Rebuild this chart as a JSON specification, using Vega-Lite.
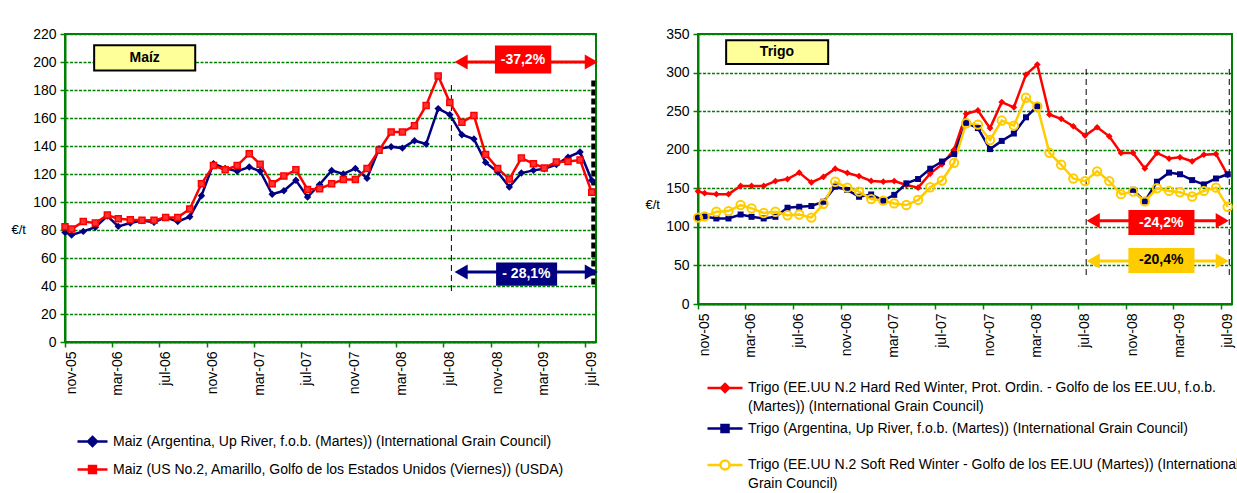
{
  "$schema": "https://vega.github.io/schema/vega-lite/v6.json",
  "background": "white",
  "padding": {"left": 10, "top": 26, "right": 0, "bottom": 0},
  "config": {
    "font": "Liberation Sans",
    "view": {"stroke": "#008000", "strokeWidth": 2},
    "axis": {"labelFont": "Liberation Sans", "labelFontSize": 14, "labelColor": "#000000", "labelOverlap": false, "domainColor": "#008000", "domainWidth": 2, "tickColor": "#008000", "tickWidth": 1.5, "tickSize": 5, "gridColor": "#008000", "gridDash": [3, 1.5], "gridWidth": 1.3, "gridOpacity": 1, "titleFont": "Liberation Sans", "titleFontSize": 13, "titleFontWeight": "normal", "titleColor": "#000000"},
    "legend": {"labelFont": "Liberation Sans", "labelColor": "#000000", "labelFontSize": 14, "labelLimit": 900, "labelOffset": 4, "padding": 0, "symbolStrokeWidth": 2.5, "title": null},
    "style": {"guide-label": {"lineHeight": 19}}
  },
  "resolve": {
    "scale": {"color": "independent"},
    "legend": {"color": "independent"}
  },
  "datasets": {
    "maiz": [
      {"d":"2005-11-01","s":"MA","v":78.3},{"d":"2005-11-18","s":"MA","v":76.4},{"d":"2005-12-18","s":"MA","v":79},{"d":"2006-01-18","s":"MA","v":82},{"d":"2006-02-18","s":"MA","v":90},{"d":"2006-03-18","s":"MA","v":82.6},{"d":"2006-04-18","s":"MA","v":85},{"d":"2006-05-18","s":"MA","v":86.7},{"d":"2006-06-18","s":"MA","v":85.5},{"d":"2006-07-18","s":"MA","v":89},{"d":"2006-08-18","s":"MA","v":86},{"d":"2006-09-18","s":"MA","v":89.5},{"d":"2006-10-18","s":"MA","v":104.5},{"d":"2006-11-18","s":"MA","v":127.4},{"d":"2006-12-18","s":"MA","v":124},{"d":"2007-01-18","s":"MA","v":122},{"d":"2007-02-18","s":"MA","v":125},{"d":"2007-03-18","s":"MA","v":122},{"d":"2007-04-18","s":"MA","v":105.5},{"d":"2007-05-18","s":"MA","v":108},{"d":"2007-06-18","s":"MA","v":115.5},{"d":"2007-07-18","s":"MA","v":103.5},{"d":"2007-08-18","s":"MA","v":112.5},{"d":"2007-09-18","s":"MA","v":122.5},{"d":"2007-10-18","s":"MA","v":120},{"d":"2007-11-18","s":"MA","v":124},{"d":"2007-12-18","s":"MA","v":117},{"d":"2008-01-18","s":"MA","v":138},{"d":"2008-02-18","s":"MA","v":139.5},{"d":"2008-03-18","s":"MA","v":138.5},{"d":"2008-04-18","s":"MA","v":143.8},{"d":"2008-05-18","s":"MA","v":141.4},{"d":"2008-06-18","s":"MA","v":166.7},{"d":"2008-07-18","s":"MA","v":162.4},{"d":"2008-08-18","s":"MA","v":148},{"d":"2008-09-18","s":"MA","v":145},{"d":"2008-10-18","s":"MA","v":128.3},{"d":"2008-11-18","s":"MA","v":121.4},{"d":"2008-12-18","s":"MA","v":110.7},{"d":"2009-01-18","s":"MA","v":120.7},{"d":"2009-02-18","s":"MA","v":122.6},{"d":"2009-03-18","s":"MA","v":123.8},{"d":"2009-04-18","s":"MA","v":126.7},{"d":"2009-05-18","s":"MA","v":132},{"d":"2009-06-18","s":"MA","v":135.7},{"d":"2009-07-18","s":"MA","v":115.5},
      {"d":"2005-11-01","s":"MU","v":82.4},{"d":"2005-11-18","s":"MU","v":80.7},{"d":"2005-12-18","s":"MU","v":86},{"d":"2006-01-18","s":"MU","v":85},{"d":"2006-02-18","s":"MU","v":90.7},{"d":"2006-03-18","s":"MU","v":88},{"d":"2006-04-18","s":"MU","v":87.4},{"d":"2006-05-18","s":"MU","v":87},{"d":"2006-06-18","s":"MU","v":87},{"d":"2006-07-18","s":"MU","v":89},{"d":"2006-08-18","s":"MU","v":89},{"d":"2006-09-18","s":"MU","v":95},{"d":"2006-10-18","s":"MU","v":113},{"d":"2006-11-18","s":"MU","v":126},{"d":"2006-12-18","s":"MU","v":123},{"d":"2007-01-18","s":"MU","v":126},{"d":"2007-02-18","s":"MU","v":134.5},{"d":"2007-03-18","s":"MU","v":127},{"d":"2007-04-18","s":"MU","v":113},{"d":"2007-05-18","s":"MU","v":118.5},{"d":"2007-06-18","s":"MU","v":123},{"d":"2007-07-18","s":"MU","v":109},{"d":"2007-08-18","s":"MU","v":109.5},{"d":"2007-09-18","s":"MU","v":113},{"d":"2007-10-18","s":"MU","v":116},{"d":"2007-11-18","s":"MU","v":116},{"d":"2007-12-18","s":"MU","v":124},{"d":"2008-01-18","s":"MU","v":137},{"d":"2008-02-18","s":"MU","v":150},{"d":"2008-03-18","s":"MU","v":150},{"d":"2008-04-18","s":"MU","v":154.5},{"d":"2008-05-18","s":"MU","v":169},{"d":"2008-06-18","s":"MU","v":190},{"d":"2008-07-18","s":"MU","v":171},{"d":"2008-08-18","s":"MU","v":157},{"d":"2008-09-18","s":"MU","v":161.7},{"d":"2008-10-18","s":"MU","v":134},{"d":"2008-11-18","s":"MU","v":124},{"d":"2008-12-18","s":"MU","v":116.4},{"d":"2009-01-18","s":"MU","v":131.4},{"d":"2009-02-18","s":"MU","v":127.4},{"d":"2009-03-18","s":"MU","v":124.3},{"d":"2009-04-18","s":"MU","v":128.6},{"d":"2009-05-18","s":"MU","v":129},{"d":"2009-06-18","s":"MU","v":130},{"d":"2009-07-18","s":"MU","v":107}
    ],
    "trigo": [
      {"d":"2005-11-01","s":"TH","v":146},{"d":"2005-11-18","s":"TH","v":143.6},{"d":"2005-12-18","s":"TH","v":142.4},{"d":"2006-01-18","s":"TH","v":142.4},{"d":"2006-02-18","s":"TH","v":153},{"d":"2006-03-18","s":"TH","v":153},{"d":"2006-04-18","s":"TH","v":153},{"d":"2006-05-18","s":"TH","v":159.3},{"d":"2006-06-18","s":"TH","v":161.9},{"d":"2006-07-18","s":"TH","v":170.3},{"d":"2006-08-18","s":"TH","v":157.6},{"d":"2006-09-18","s":"TH","v":164.8},{"d":"2006-10-18","s":"TH","v":175.4},{"d":"2006-11-18","s":"TH","v":169.9},{"d":"2006-12-18","s":"TH","v":165.7},{"d":"2007-01-18","s":"TH","v":159.5},{"d":"2007-02-18","s":"TH","v":158.5},{"d":"2007-03-18","s":"TH","v":159.3},{"d":"2007-04-18","s":"TH","v":154.2},{"d":"2007-05-18","s":"TH","v":150.8},{"d":"2007-06-18","s":"TH","v":169},{"d":"2007-07-18","s":"TH","v":181},{"d":"2007-08-18","s":"TH","v":200},{"d":"2007-09-18","s":"TH","v":246.5},{"d":"2007-10-18","s":"TH","v":250.9},{"d":"2007-11-18","s":"TH","v":228},{"d":"2007-12-18","s":"TH","v":261.7},{"d":"2008-01-18","s":"TH","v":255},{"d":"2008-02-18","s":"TH","v":297.4},{"d":"2008-03-18","s":"TH","v":310.4},{"d":"2008-04-18","s":"TH","v":245.6},{"d":"2008-05-18","s":"TH","v":240},{"d":"2008-06-18","s":"TH","v":230.4},{"d":"2008-07-18","s":"TH","v":218.3},{"d":"2008-08-18","s":"TH","v":229.1},{"d":"2008-09-18","s":"TH","v":217.4},{"d":"2008-10-18","s":"TH","v":195.8},{"d":"2008-11-18","s":"TH","v":195.8},{"d":"2008-12-18","s":"TH","v":175.8},{"d":"2009-01-18","s":"TH","v":195.8},{"d":"2009-02-18","s":"TH","v":188.5},{"d":"2009-03-18","s":"TH","v":190.2},{"d":"2009-04-18","s":"TH","v":185},{"d":"2009-05-18","s":"TH","v":193.6},{"d":"2009-06-18","s":"TH","v":194.5},{"d":"2009-07-18","s":"TH","v":167},
      {"d":"2005-11-01","s":"TA","v":112},{"d":"2005-11-18","s":"TA","v":113.5},{"d":"2005-12-18","s":"TA","v":110.9},{"d":"2006-01-18","s":"TA","v":110.9},{"d":"2006-02-18","s":"TA","v":116},{"d":"2006-03-18","s":"TA","v":113},{"d":"2006-04-18","s":"TA","v":110.9},{"d":"2006-05-18","s":"TA","v":113},{"d":"2006-06-18","s":"TA","v":124.8},{"d":"2006-07-18","s":"TA","v":126},{"d":"2006-08-18","s":"TA","v":127},{"d":"2006-09-18","s":"TA","v":132.6},{"d":"2006-10-18","s":"TA","v":152},{"d":"2006-11-18","s":"TA","v":147.8},{"d":"2006-12-18","s":"TA","v":139},{"d":"2007-01-18","s":"TA","v":142},{"d":"2007-02-18","s":"TA","v":134},{"d":"2007-03-18","s":"TA","v":141.5},{"d":"2007-04-18","s":"TA","v":156.4},{"d":"2007-05-18","s":"TA","v":162},{"d":"2007-06-18","s":"TA","v":175.4},{"d":"2007-07-18","s":"TA","v":184.7},{"d":"2007-08-18","s":"TA","v":194.5},{"d":"2007-09-18","s":"TA","v":234.8},{"d":"2007-10-18","s":"TA","v":228},{"d":"2007-11-18","s":"TA","v":200.8},{"d":"2007-12-18","s":"TA","v":211.4},{"d":"2008-01-18","s":"TA","v":221},{"d":"2008-02-18","s":"TA","v":242},{"d":"2008-03-18","s":"TA","v":256.5},{"d":"2008-04-18","s":"TA","v":null},{"d":"2008-05-18","s":"TA","v":null},{"d":"2008-06-18","s":"TA","v":null},{"d":"2008-07-18","s":"TA","v":null},{"d":"2008-08-18","s":"TA","v":null},{"d":"2008-09-18","s":"TA","v":null},{"d":"2008-10-18","s":"TA","v":null},{"d":"2008-11-18","s":"TA","v":148},{"d":"2008-12-18","s":"TA","v":133},{"d":"2009-01-18","s":"TA","v":158.5},{"d":"2009-02-18","s":"TA","v":170.3},{"d":"2009-03-18","s":"TA","v":168.2},{"d":"2009-04-18","s":"TA","v":160.6},{"d":"2009-05-18","s":"TA","v":155},{"d":"2009-06-18","s":"TA","v":162.7},{"d":"2009-07-18","s":"TA","v":168.2},
      {"d":"2005-11-01","s":"TS","v":112},{"d":"2005-11-18","s":"TS","v":113.5},{"d":"2005-12-18","s":"TS","v":119.6},{"d":"2006-01-18","s":"TS","v":120.4},{"d":"2006-02-18","s":"TS","v":128.3},{"d":"2006-03-18","s":"TS","v":124},{"d":"2006-04-18","s":"TS","v":118},{"d":"2006-05-18","s":"TS","v":119.6},{"d":"2006-06-18","s":"TS","v":115},{"d":"2006-07-18","s":"TS","v":116},{"d":"2006-08-18","s":"TS","v":112},{"d":"2006-09-18","s":"TS","v":130},{"d":"2006-10-18","s":"TS","v":158.5},{"d":"2006-11-18","s":"TS","v":150.8},{"d":"2006-12-18","s":"TS","v":145.7},{"d":"2007-01-18","s":"TS","v":136},{"d":"2007-02-18","s":"TS","v":134},{"d":"2007-03-18","s":"TS","v":130.4},{"d":"2007-04-18","s":"TS","v":128.3},{"d":"2007-05-18","s":"TS","v":134.9},{"d":"2007-06-18","s":"TS","v":151.3},{"d":"2007-07-18","s":"TS","v":160},{"d":"2007-08-18","s":"TS","v":183},{"d":"2007-09-18","s":"TS","v":234.3},{"d":"2007-10-18","s":"TS","v":232.6},{"d":"2007-11-18","s":"TS","v":212.6},{"d":"2007-12-18","s":"TS","v":237.8},{"d":"2008-01-18","s":"TS","v":231.3},{"d":"2008-02-18","s":"TS","v":267.4},{"d":"2008-03-18","s":"TS","v":256},{"d":"2008-04-18","s":"TS","v":196},{"d":"2008-05-18","s":"TS","v":180.5},{"d":"2008-06-18","s":"TS","v":162.7},{"d":"2008-07-18","s":"TS","v":159.3},{"d":"2008-08-18","s":"TS","v":172},{"d":"2008-09-18","s":"TS","v":159.3},{"d":"2008-10-18","s":"TS","v":142.4},{"d":"2008-11-18","s":"TS","v":145.8},{"d":"2008-12-18","s":"TS","v":133},{"d":"2009-01-18","s":"TS","v":150},{"d":"2009-02-18","s":"TS","v":146.6},{"d":"2009-03-18","s":"TS","v":144.9},{"d":"2009-04-18","s":"TS","v":139.4},{"d":"2009-05-18","s":"TS","v":146.6},{"d":"2009-06-18","s":"TS","v":150.8},{"d":"2009-07-18","s":"TS","v":126}
    ]
  },
  "spacing": 102,
  "bounds": "flush",
  "hconcat": [
    {
      "width": 531,
      "height": 308,
      "resolve": {"scale": {"color": "independent"}, "legend": {"color": "independent"}},
      "encoding": {
        "x": {"field": "d", "type": "temporal", "scale": {"type": "utc", "domain": [{"year": 2005, "month": 11, "date": 1, "utc": true}, {"year": 2009, "month": 7, "date": 29, "utc": true}]},
          "axis": {"title": null, "grid": false, "labelAngle": 270, "labelPadding": 4, "labelOffset": 6,
            "values": [{"year": 2005, "month": 11, "date": 1, "utc": true}, {"year": 2006, "month": 3, "date": 1, "utc": true}, {"year": 2006, "month": 7, "date": 1, "utc": true}, {"year": 2006, "month": 11, "date": 1, "utc": true}, {"year": 2007, "month": 3, "date": 1, "utc": true}, {"year": 2007, "month": 7, "date": 1, "utc": true}, {"year": 2007, "month": 11, "date": 1, "utc": true}, {"year": 2008, "month": 3, "date": 1, "utc": true}, {"year": 2008, "month": 7, "date": 1, "utc": true}, {"year": 2008, "month": 11, "date": 1, "utc": true}, {"year": 2009, "month": 3, "date": 1, "utc": true}, {"year": 2009, "month": 7, "date": 1, "utc": true}],
            "labelExpr": "['ene','feb','mar','abr','may','jun','jul','ago','sep','oct','nov','dic'][utcmonth(datum.value)] + '-' + utcFormat(datum.value, '%y')"}},
        "y": {"field": "v", "type": "quantitative", "scale": {"domain": [0, 220], "nice": false},
          "axis": {"values": [0, 20, 40, 60, 80, 100, 120, 140, 160, 180, 200, 220], "tickCount": 12, "grid": true, "title": "€/t", "titleAngle": 0, "titleAlign": "left", "titleBaseline": "middle", "titleX": -54, "titleY": 195, "labelPadding": 4}}
      },
      "layer": [
        {
          "data": {"values": [{"d": "2008-07-22", "v": 36.4, "v2": 185}]},
          "mark": {"type": "rule", "color": "#000000", "strokeWidth": 1, "strokeDash": [6, 4]},
          "encoding": {"y2": {"field": "v2"}}
        },
        {
          "data": {"values": [{"d": "2009-07-22", "v": 41, "v2": 189}]},
          "mark": {"type": "rule", "color": "#000000", "strokeWidth": 4, "strokeDash": [6, 3]},
          "encoding": {"y2": {"field": "v2"}}
        },
        {
          "data": {"name": "maiz"},
          "transform": [{"filter": "datum.s == 'MA'"}],
          "mark": {"type": "line", "strokeWidth": 2.5},
          "encoding": {
            "color": {"field": "s", "type": "nominal", "scale": {"domain": ["MA"], "range": ["#000080"]},
              "legend": {"orient": "none", "legendX": 11, "legendY": 391, "symbolType": "M-1,0H1M0,-0.3L0.3,0L0,0.3L-0.3,0ZM0,-0.13L0.13,0L0,0.13L-0.13,0Z", "symbolSize": 900, "symbolFillColor": "#000080",
                "labelExpr": "'Maiz (Argentina, Up River, f.o.b. (Martes)) (International Grain Council)'"}}
          }
        },
        {
          "data": {"name": "maiz"},
          "transform": [{"filter": "datum.s == 'MU'"}],
          "mark": {"type": "line", "strokeWidth": 2.5},
          "encoding": {
            "color": {"field": "s", "type": "nominal", "scale": {"domain": ["MU"], "range": ["#FF0000"]},
              "legend": {"orient": "none", "legendX": 11, "legendY": 419, "symbolType": "M-1,0H1M-0.23,-0.23H0.23V0.23H-0.23ZM-0.08,-0.08H0.08V0.08H-0.08Z", "symbolSize": 900, "symbolFillColor": "#FF0000",
                "labelExpr": "'Maiz (US No.2, Amarillo, Golfo de los Estados Unidos (Viernes)) (USDA)'"}}
          }
        },
        {
          "data": {"name": "maiz"},
          "transform": [{"filter": "datum.s == 'MA'"}],
          "mark": {"type": "point", "shape": "diamond", "filled": true, "color": "#000080", "size": 55, "opacity": 1},
          "encoding": {}
        },
        {
          "data": {"name": "maiz"},
          "transform": [{"filter": "datum.s == 'MU'"}],
          "mark": {"type": "point", "shape": "square", "filled": true, "fill": "#FF3333", "stroke": "#FF0000", "strokeWidth": 1.5, "size": 36, "opacity": 1},
          "encoding": {}
        },
        {
          "data": {"values": [{"d": "2006-01-15", "d2": "2006-10-02", "v": 194, "v2": 212}]},
          "mark": {"type": "rect", "fill": "#FFFF99", "stroke": "#000000", "strokeWidth": 2},
          "encoding": {"x2": {"field": "d2"}, "y2": {"field": "v2"}}
        },
        {
          "data": {"values": [{"d": "2006-05-25", "v": 203, "t": "Maíz"}]},
          "mark": {"type": "text", "fontWeight": "bold", "fontSize": 14, "color": "#000000"},
          "encoding": {"text": {"field": "t"}}
        },
        {
          "data": {"values": [{"d": "2008-08-16", "d2": "2009-07-17", "v": 200}]},
          "mark": {"type": "rule", "color": "#FF0000", "strokeWidth": 3},
          "encoding": {"x2": {"field": "d2"}}
        },
        {
          "data": {"values": [{"d": "2008-08-16", "v": 200}]},
          "mark": {"type": "point", "shape": "triangle-left", "filled": true, "color": "#FF0000", "size": 230, "opacity": 1},
          "encoding": {}
        },
        {
          "data": {"values": [{"d": "2009-07-17", "v": 200}]},
          "mark": {"type": "point", "shape": "triangle-right", "filled": true, "color": "#FF0000", "size": 230, "opacity": 1},
          "encoding": {}
        },
        {
          "data": {"values": [{"d": "2008-11-11", "d2": "2009-04-05", "v": 191.7, "v2": 211.7}]},
          "mark": {"type": "rect", "color": "#FF0000", "opacity": 1},
          "encoding": {"x2": {"field": "d2"}, "y2": {"field": "v2"}}
        },
        {
          "data": {"values": [{"d": "2009-01-22", "v": 201.7, "t": "-37,2%"}]},
          "mark": {"type": "text", "fontWeight": "bold", "fontSize": 14, "color": "#FFFFFF"},
          "encoding": {"text": {"field": "t"}}
        },
        {
          "data": {"values": [{"d": "2008-08-16", "d2": "2009-07-17", "v": 50}]},
          "mark": {"type": "rule", "color": "#000080", "strokeWidth": 3},
          "encoding": {"x2": {"field": "d2"}}
        },
        {
          "data": {"values": [{"d": "2008-08-16", "v": 50}]},
          "mark": {"type": "point", "shape": "triangle-left", "filled": true, "color": "#000080", "size": 230, "opacity": 1},
          "encoding": {}
        },
        {
          "data": {"values": [{"d": "2009-07-17", "v": 50}]},
          "mark": {"type": "point", "shape": "triangle-right", "filled": true, "color": "#000080", "size": 230, "opacity": 1},
          "encoding": {}
        },
        {
          "data": {"values": [{"d": "2008-11-14", "d2": "2009-04-20", "v": 40.1, "v2": 56.8}]},
          "mark": {"type": "rect", "color": "#000080", "opacity": 1},
          "encoding": {"x2": {"field": "d2"}, "y2": {"field": "v2"}}
        },
        {
          "data": {"values": [{"d": "2009-01-31", "v": 48.5, "t": "- 28,1%"}]},
          "mark": {"type": "text", "fontWeight": "bold", "fontSize": 14, "color": "#FFFFFF"},
          "encoding": {"text": {"field": "t"}}
        }
      ]
    },
    {
      "width": 534,
      "height": 270,
      "resolve": {"scale": {"color": "independent"}, "legend": {"color": "independent"}},
      "encoding": {
        "x": {"field": "d", "type": "temporal", "scale": {"type": "utc", "domain": [{"year": 2005, "month": 11, "date": 1, "utc": true}, {"year": 2009, "month": 7, "date": 29, "utc": true}]},
          "axis": {"title": null, "grid": false, "labelAngle": 270, "labelPadding": 4, "labelOffset": 6,
            "values": [{"year": 2005, "month": 11, "date": 1, "utc": true}, {"year": 2006, "month": 3, "date": 1, "utc": true}, {"year": 2006, "month": 7, "date": 1, "utc": true}, {"year": 2006, "month": 11, "date": 1, "utc": true}, {"year": 2007, "month": 3, "date": 1, "utc": true}, {"year": 2007, "month": 7, "date": 1, "utc": true}, {"year": 2007, "month": 11, "date": 1, "utc": true}, {"year": 2008, "month": 3, "date": 1, "utc": true}, {"year": 2008, "month": 7, "date": 1, "utc": true}, {"year": 2008, "month": 11, "date": 1, "utc": true}, {"year": 2009, "month": 3, "date": 1, "utc": true}, {"year": 2009, "month": 7, "date": 1, "utc": true}],
            "labelExpr": "['ene','feb','mar','abr','may','jun','jul','ago','sep','oct','nov','dic'][utcmonth(datum.value)] + '-' + utcFormat(datum.value, '%y')"}},
        "y": {"field": "v", "type": "quantitative", "scale": {"domain": [0, 350], "nice": false},
          "axis": {"values": [0, 50, 100, 150, 200, 250, 300, 350], "tickCount": 8, "grid": true, "title": "€/t", "titleAngle": 0, "titleAlign": "left", "titleBaseline": "middle", "titleX": -53, "titleY": 170, "labelPadding": 4}}
      },
      "layer": [
        {
          "data": {"values": [{"d": "2008-07-21", "v": 37.6, "v2": 307}, {"d": "2009-07-22", "v": 37.6, "v2": 307}]},
          "mark": {"type": "rule", "color": "#000000", "strokeWidth": 1, "strokeDash": [6, 4]},
          "encoding": {"y2": {"field": "v2"}}
        },
        {
          "data": {"name": "trigo"},
          "transform": [{"filter": "datum.s == 'TH'"}],
          "mark": {"type": "line", "strokeWidth": 2.5},
          "encoding": {
            "color": {"field": "s", "type": "nominal", "scale": {"domain": ["TH"], "range": ["#FF0000"]},
              "legend": {"orient": "none", "legendX": 8, "legendY": 335, "symbolType": "M-1,0H1M0,-0.23L0.23,0L0,0.23L-0.23,0ZM0,-0.1L0.1,0L0,0.1L-0.1,0Z", "symbolSize": 1225, "symbolFillColor": "#FF0000",
                "labelExpr": "['Trigo (EE.UU N.2 Hard Red Winter, Prot. Ordin. - Golfo de los EE.UU, f.o.b.', '(Martes)) (International Grain Council)']"}}
          }
        },
        {
          "data": {"name": "trigo"},
          "transform": [{"filter": "datum.s == 'TA'"}],
          "mark": {"type": "line", "strokeWidth": 2.5, "invalid": "break-paths-filter-domains"},
          "encoding": {
            "color": {"field": "s", "type": "nominal", "scale": {"domain": ["TA"], "range": ["#000080"]},
              "legend": {"orient": "none", "legendX": 8, "legendY": 375.5, "symbolType": "M-1,0H1M-0.2,-0.2H0.2V0.2H-0.2ZM-0.07,-0.07H0.07V0.07H-0.07Z", "symbolSize": 1225, "symbolFillColor": "#000080",
                "labelExpr": "'Trigo (Argentina, Up River, f.o.b. (Martes)) (International Grain Council)'"}}
          }
        },
        {
          "data": {"name": "trigo"},
          "transform": [{"filter": "datum.s == 'TS'"}],
          "mark": {"type": "line", "strokeWidth": 2.5},
          "encoding": {
            "color": {"field": "s", "type": "nominal", "scale": {"domain": ["TS"], "range": ["#FFCC00"]},
              "legend": {"orient": "none", "legendX": 8, "legendY": 412, "symbolType": "M-1,0H-0.26M0.26,0H1M0.26,0A0.26,0.26,0,1,1,-0.26,0A0.26,0.26,0,1,1,0.26,0Z", "symbolSize": 1225, "symbolFillColor": "#FFFFFF",
                "labelExpr": "['Trigo (EE.UU N.2 Soft Red Winter - Golfo de los EE.UU (Martes)) (International', 'Grain Council)']"}}
          }
        },
        {
          "data": {"name": "trigo"},
          "transform": [{"filter": "datum.s == 'TH'"}],
          "mark": {"type": "point", "shape": "diamond", "filled": true, "color": "#FF0000", "size": 45, "opacity": 1},
          "encoding": {}
        },
        {
          "data": {"name": "trigo"},
          "transform": [{"filter": "datum.s == 'TA' && isValid(datum.v)"}],
          "mark": {"type": "point", "shape": "square", "filled": true, "color": "#000080", "size": 36, "opacity": 1},
          "encoding": {}
        },
        {
          "data": {"name": "trigo"},
          "transform": [{"filter": "datum.s == 'TS'"}],
          "mark": {"type": "point", "shape": "circle", "filled": false, "color": "#FFCC00", "strokeWidth": 2, "size": 70, "opacity": 1},
          "encoding": {}
        },
        {
          "data": {"values": [{"d": "2006-01-12", "d2": "2006-09-30", "v": 311, "v2": 342}]},
          "mark": {"type": "rect", "fill": "#FFFF99", "stroke": "#000000", "strokeWidth": 2},
          "encoding": {"x2": {"field": "d2"}, "y2": {"field": "v2"}}
        },
        {
          "data": {"values": [{"d": "2006-05-22", "v": 326.5, "t": "Trigo"}]},
          "mark": {"type": "text", "fontWeight": "bold", "fontSize": 14, "color": "#000000"},
          "encoding": {"text": {"field": "t"}}
        },
        {
          "data": {"values": [{"d": "2008-08-08", "d2": "2009-07-04", "v": 108}]},
          "mark": {"type": "rule", "color": "#FF0000", "strokeWidth": 3},
          "encoding": {"x2": {"field": "d2"}}
        },
        {
          "data": {"values": [{"d": "2008-08-08", "v": 108}]},
          "mark": {"type": "point", "shape": "triangle-left", "filled": true, "color": "#FF0000", "size": 230, "opacity": 1},
          "encoding": {}
        },
        {
          "data": {"values": [{"d": "2009-07-04", "v": 108}]},
          "mark": {"type": "point", "shape": "triangle-right", "filled": true, "color": "#FF0000", "size": 230, "opacity": 1},
          "encoding": {}
        },
        {
          "data": {"values": [{"d": "2008-11-06", "d2": "2009-04-24", "v": 89.4, "v2": 121.8}]},
          "mark": {"type": "rect", "color": "#FF0000", "opacity": 1},
          "encoding": {"x2": {"field": "d2"}, "y2": {"field": "v2"}}
        },
        {
          "data": {"values": [{"d": "2009-01-29", "v": 105.6, "t": "-24,2%"}]},
          "mark": {"type": "text", "fontWeight": "bold", "fontSize": 14, "color": "#FFFFFF"},
          "encoding": {"text": {"field": "t"}}
        },
        {
          "data": {"values": [{"d": "2008-08-08", "d2": "2009-07-04", "v": 55.7}]},
          "mark": {"type": "rule", "color": "#FFCC00", "strokeWidth": 3},
          "encoding": {"x2": {"field": "d2"}}
        },
        {
          "data": {"values": [{"d": "2008-08-08", "v": 55.7}]},
          "mark": {"type": "point", "shape": "triangle-left", "filled": true, "color": "#FFCC00", "size": 230, "opacity": 1},
          "encoding": {}
        },
        {
          "data": {"values": [{"d": "2009-07-04", "v": 55.7}]},
          "mark": {"type": "point", "shape": "triangle-right", "filled": true, "color": "#FFCC00", "size": 230, "opacity": 1},
          "encoding": {}
        },
        {
          "data": {"values": [{"d": "2008-11-06", "d2": "2009-04-24", "v": 40.2, "v2": 72.5}]},
          "mark": {"type": "rect", "color": "#FFCC00", "opacity": 1},
          "encoding": {"x2": {"field": "d2"}, "y2": {"field": "v2"}}
        },
        {
          "data": {"values": [{"d": "2009-01-29", "v": 56.4, "t": "-20,4%"}]},
          "mark": {"type": "text", "fontWeight": "bold", "fontSize": 14, "color": "#000000"},
          "encoding": {"text": {"field": "t"}}
        }
      ]
    }
  ]
}
